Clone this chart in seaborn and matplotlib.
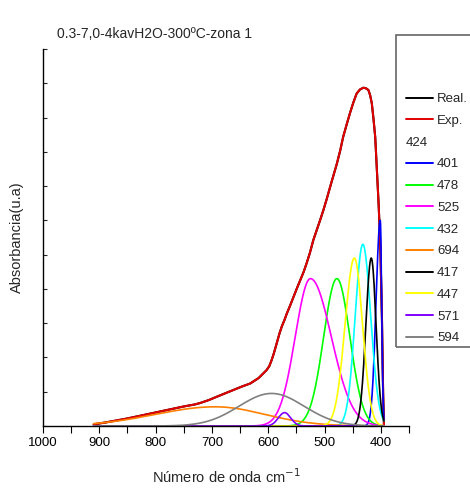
import numpy as np
import matplotlib
matplotlib.use("Agg")
import matplotlib.pyplot as plt
import seaborn as sns
from matplotlib.lines import Line2D
from matplotlib.legend_handler import HandlerBase
from matplotlib.patches import Rectangle
from matplotlib.text import Text
from matplotlib.ticker import MultipleLocator, NullFormatter

sns.set_style("white")
plt.rcParams["font.family"] = ["Liberation Sans", "DejaVu Sans"]

# Measured spectrum (wavenumber in cm-1, absorbance in a.u.)
wavenumber = [910, 890, 870, 850, 830, 810, 790, 770, 750, 730, 721, 705, 692, 677,
              662, 647, 632, 617, 603, 598, 594, 590, 585, 580, 576, 571, 567, 561,
              555, 549, 543, 537, 532, 526, 520, 514, 508, 502, 496, 490, 484, 478,
              472, 467, 461, 455, 449, 443, 437, 431, 426, 422, 419, 416, 413, 410,
              407, 404, 401, 398, 396, 394.5]
absorbance = [0.005, 0.010, 0.016, 0.022, 0.029, 0.036, 0.043, 0.050, 0.057, 0.063,
              0.067, 0.076, 0.085, 0.095, 0.105, 0.115, 0.124, 0.140, 0.163, 0.175,
              0.192, 0.212, 0.241, 0.270, 0.290, 0.310, 0.328, 0.352, 0.377, 0.402,
              0.426, 0.450, 0.474, 0.505, 0.542, 0.571, 0.600, 0.630, 0.663, 0.698,
              0.732, 0.766, 0.805, 0.843, 0.878, 0.912, 0.943, 0.970, 0.982, 0.987,
              0.985, 0.980, 0.965, 0.941, 0.895, 0.843, 0.746, 0.649, 0.533, 0.309,
              0.100, 0.003]

# Fitted bands: centre, height and half-widths on each side of the centre
band_labels = ["401", "478", "525", "432", "694", "417", "447", "571", "594"]
band_centers = [401, 478, 525, 432, 694, 417, 447, 571, 594]
band_heights = [0.60, 0.43, 0.43, 0.53, 0.056, 0.49, 0.49, 0.039, 0.095]
band_sigma_high = [7.5, 23.5, 27.0, 13.5, 106.0, 9.5, 16.5, 11.0, 58.0]
band_sigma_low = [2.5, 23.0, 37.0, 14.0, 88.0, 8.5, 14.5, 11.0, 58.0]
band_colors = ["#0000ff", "#00ff00", "#ff00ff", "#00ffff", "#ff8000",
               "#000000", "#ffff00", "#8000ff", "#808080"]
hidden_band_label = "424"

grid = np.arange(394.5, 910.5, 0.5)


def band_profile(center, height, s_high, s_low):
    s = np.where(grid >= center, s_high, s_low)
    return height * np.exp(-0.5 * ((grid - center) / s) ** 2)


fig = plt.figure(figsize=(4.7, 4.91), dpi=100)
ax = fig.add_axes([43 / 470, 65 / 491, 366 / 470, 377 / 491])

sns.lineplot(x=wavenumber, y=absorbance, color="black", linewidth=1.5,
             sort=False, estimator=None, ax=ax)
sns.lineplot(x=wavenumber, y=absorbance, color="#e00000", linewidth=1.5,
             sort=False, estimator=None, ax=ax)
for c, h, sh, sl, col in zip(band_centers, band_heights, band_sigma_high,
                             band_sigma_low, band_colors):
    sns.lineplot(x=grid, y=band_profile(c, h, sh, sl), color=col, linewidth=1.2,
                 sort=False, estimator=None, ax=ax)

ax.set_xlim(1000, 350)
ax.set_ylim(0, 1.1)
ax.xaxis.set_major_locator(MultipleLocator(100))
ax.xaxis.set_minor_locator(MultipleLocator(50))
ax.yaxis.set_major_locator(MultipleLocator(0.1))
ax.yaxis.set_major_formatter(NullFormatter())
ax.tick_params(axis="x", which="both", direction="out", length=5, width=0.8,
               bottom=True, labelsize=9.5, pad=3, colors="black")
ax.tick_params(axis="y", which="major", direction="in", length=3, width=0.8,
               left=True)
sns.despine(ax=ax)
for side in ("left", "bottom"):
    ax.spines[side].set_color("black")
    ax.spines[side].set_linewidth(1.0)

ax.set_xlabel("Número de onda cm$^{-1}$", fontsize=10.5, labelpad=13)
ax.set_ylabel("Absorbancia(u.a)", fontsize=10.5, labelpad=10)
fig.text(57 / 470, 1 - 34 / 491, "0.3-7,0-4kavH2O-300ºC-zona 1",
         fontsize=10, ha="left", va="center")


class TextOnlyHandle:
    def __init__(self, text):
        self.text = text


class HandlerTextOnly(HandlerBase):
    def legend_artist(self, legend, orig_handle, fontsize, handlebox):
        t = Text(-handlebox.xdescent, -handlebox.ydescent, orig_handle.text,
                 fontsize=fontsize, ha="left", va="baseline",
                 fontfamily=plt.rcParams["font.family"])
        handlebox.add_artist(t)
        return t


handles = [Line2D([], [], color="black", lw=1.4),
           Line2D([], [], color="#e00000", lw=1.4),
           TextOnlyHandle(hidden_band_label)]
labels = ["Real.", "Exp.", ""]
for lab, col in zip(band_labels, band_colors):
    handles.append(Line2D([], [], color=col, lw=1.4))
    labels.append(lab)

fig.legend(handles, labels, loc="upper left",
           bbox_to_anchor=(406 / 470, 1 - 93 / 491),
           bbox_transform=fig.transFigure, frameon=False, fontsize=9.5,
           handlelength=2.05, handletextpad=0.3, labelspacing=0.72,
           borderpad=0, borderaxespad=0,
           handler_map={TextOnlyHandle: HandlerTextOnly()})

fig.add_artist(Rectangle((396 / 470, (491 - 347) / 491), 0.3, (347 - 35) / 491,
                         transform=fig.transFigure, fill=False,
                         edgecolor="#666666", linewidth=1.2, clip_on=False))

fig.savefig("out.png", dpi=100)
